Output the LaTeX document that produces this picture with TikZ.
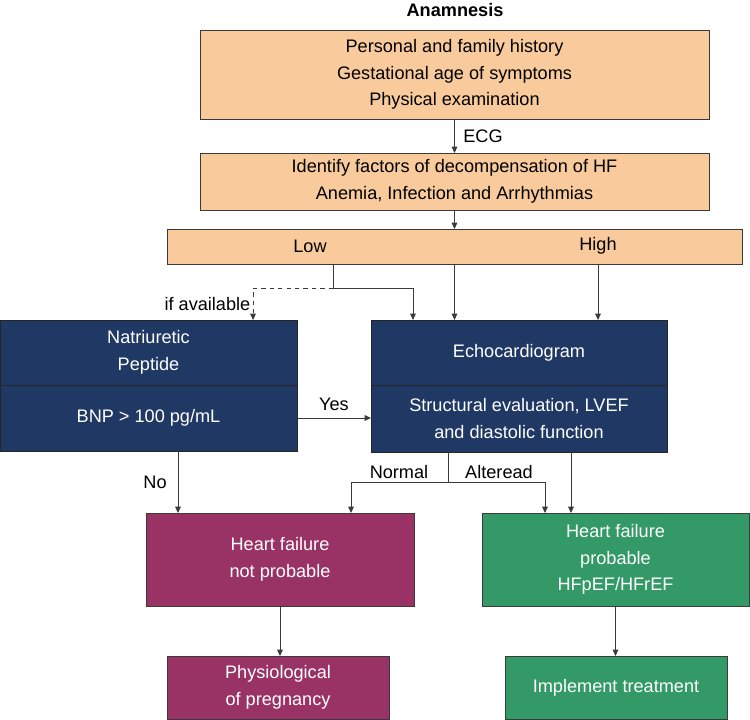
\documentclass[tikz,border=0pt]{standalone}
\usepackage{fontspec}
\setmainfont{Liberation Sans}
\usepackage{xcolor}
\usepackage{tikz}
\usetikzlibrary{positioning,arrows.meta}

\definecolor{peach}{HTML}{F9CB9C}
\definecolor{navy}{HTML}{1F3864}
\definecolor{plum}{HTML}{993366}
\definecolor{jade}{HTML}{339966}
\definecolor{rim}{HTML}{3A3A3A}

\begin{document}
\begin{tikzpicture}[x=0.025cm,y=-0.025cm,>={Triangle[length=4.5pt,width=4pt]},
	font={\fontsize{12.9}{18.8}\selectfont},
	box/.style={rectangle,draw=rim,line width=0.6pt,inner sep=0pt,outer sep=0pt,align=center},
	orangebox/.style={box,fill=peach,text=black},
	bluebox/.style={box,draw=black!85,fill=navy,text=white,minimum width=7.425cm,minimum height=1.625cm},
	redbox/.style={box,fill=plum,text=white},
	greenbox/.style={box,fill=jade,text=white},
	lbl/.style={inner sep=1pt,text=black},
	link/.style={draw=rim,line width=0.6pt},
	every edge/.style={link}]
	\useasboundingbox (0,0) rectangle (750,720);

	\node [lbl,font={\fontsize{12.9}{18.8}\selectfont\bfseries}] at (455,10) (title) {Anamnesis};
	\node [orangebox,minimum width=12.725cm,minimum height=2.225cm] at (454.5,74.5) (hist) {Personal and family history\\Gestational age of symptoms\\Physical examination};
	\node [orangebox,minimum width=12.725cm,minimum height=1.425cm] at (454.5,181.5) (decomp) {Identify factors of decompensation of HF\\Anemia, Infection and Arrhythmias};
	\node [orangebox,minimum width=14.375cm,minimum height=0.875cm] at (454.5,246.5) (prob) {};
	\node [lbl] at (310,246) (low) {Low};
	\node [lbl] at (598,246) (high) {High};

	\node [bluebox] at (148.5,352.5) (natTop) {Natriuretic\\Peptide};
	\node [bluebox,minimum height=1.65cm] at (148.5,418) (natBot) {BNP > 100 pg/mL};
	\node [bluebox,minimum width=7.4cm] at (519,352.5) (echoTop) {Echocardiogram};
	\node [bluebox,minimum width=7.4cm,minimum height=1.675cm] at (519,418.5) (echoBot) {Structural evaluation, LVEF\\and diastolic function};

	\node [redbox,minimum width=6.7cm,minimum height=2.325cm] at (280,559.5) (hfno) {Heart failure\\not probable};
	\node [greenbox,minimum width=6.675cm,minimum height=2.325cm] at (615.5,559.5) (hfyes) {Heart failure\\probable\\HFpEF/HFrEF};
	\node [redbox,minimum width=5.55cm,minimum height=1.575cm] at (278,687.5) (physio) {Physiological\\of pregnancy};
	\node [greenbox,minimum width=5.55cm,minimum height=1.575cm] at (616,687.5) (treat) {Implement treatment};

	\node [lbl] at (155,482) (no) {No};
	\node [lbl] at (399,472) (normal) {Normal};
	\node [lbl] at (499,472) (altered) {Alteread};

	\coordinate (lowsplit) at (333,288);
	\coordinate (nosplit) at (178,451);
	\coordinate (evalsplit) at (448,482);
	\coordinate (direct) at (571,452);

	\path[->]
	(hist) edge node [lbl,right=5pt] {ECG} (decomp)
	(decomp) edge (prob)
	(prob.south) edge (prob.south |- echoTop.north)
	(high |- prob.south) edge (high |- echoTop.north)
	(natBot.east) edge node [lbl,above=4pt] {Yes} (echoBot.west |- natBot.east)
	(nosplit) edge (nosplit |- hfno.north)
	(direct) edge (direct |- hfyes.north)
	(hfno.south) edge (hfno.south |- physio.north)
	(hfyes.south) edge (hfyes.south |- treat.north);

	\draw [link] (lowsplit |- prob.south) -- (lowsplit);
	\draw [link,->] (lowsplit) -| ([xshift=1.05cm]echoTop.north west);
	\draw [link,->,dashed] (lowsplit) -| ([xshift=-1.1cm]natTop.north east);
	\node [lbl,anchor=east] at (252,304) (avail) {if available};

	\draw [link] (evalsplit |- echoBot.south) -- (evalsplit);
	\draw [link,->] (evalsplit) -| ([xshift=-1.575cm]hfno.north east);
	\draw [link,->] (evalsplit) -| ([xshift=1.575cm]hfyes.north west);
\end{tikzpicture}
\end{document}
